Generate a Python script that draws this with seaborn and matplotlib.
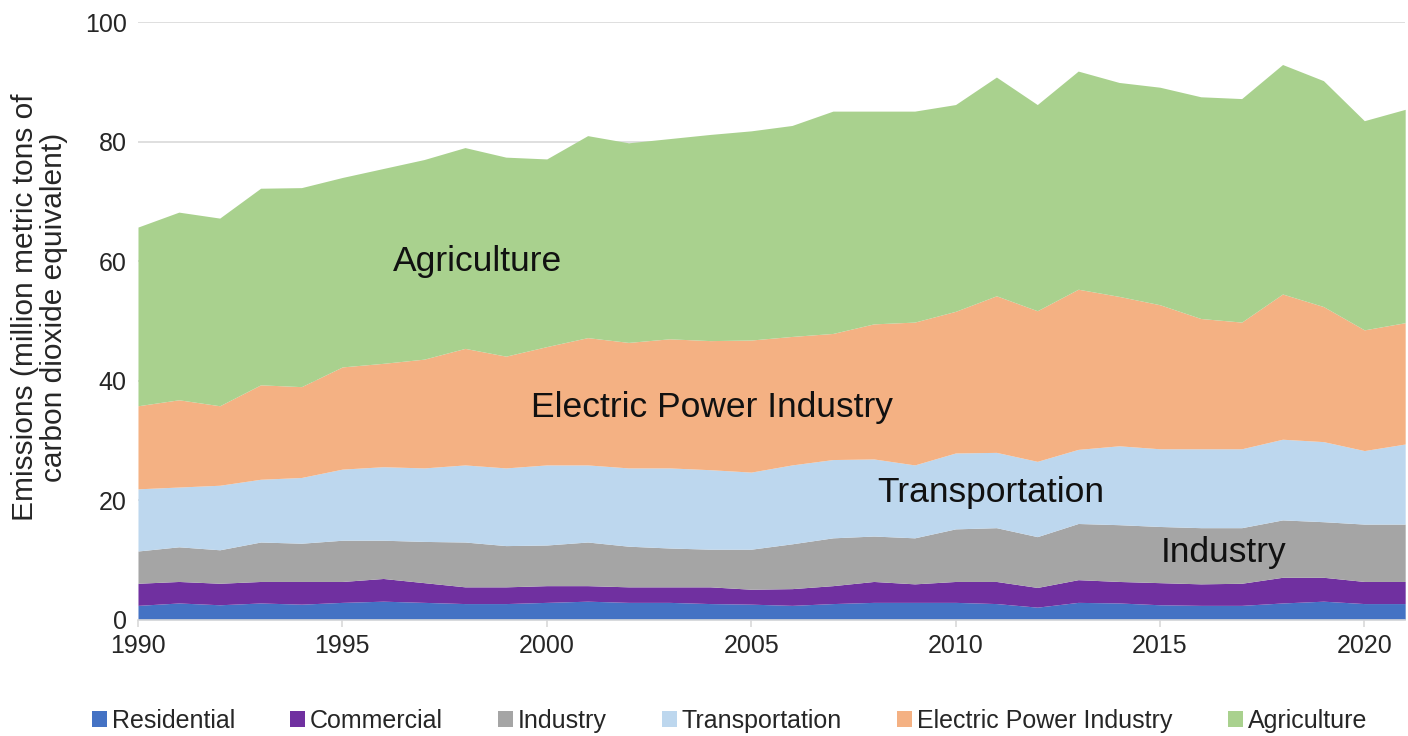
import numpy as np
import pandas as pd
import matplotlib
matplotlib.use('Agg')
import matplotlib.pyplot as plt
import seaborn as sns

years = list(range(1990, 2022))

residential = [2.4, 2.8, 2.5, 2.8, 2.6, 2.9, 3.1, 2.9, 2.7, 2.7, 2.9, 3.1, 2.9, 2.9, 2.7, 2.6,
               2.4, 2.7, 2.9, 2.9, 2.9, 2.7, 2.1, 2.9, 2.8, 2.5, 2.4, 2.4, 2.8, 3.1, 2.7, 2.7]
commercial = [3.7, 3.6, 3.6, 3.6, 3.8, 3.5, 3.8, 3.3, 2.8, 2.8, 2.8, 2.6, 2.6, 2.6, 2.8, 2.5,
              2.8, 3.0, 3.5, 3.1, 3.5, 3.7, 3.3, 3.8, 3.6, 3.7, 3.6, 3.7, 4.3, 4.0, 3.7, 3.7]
industry = [5.4, 5.8, 5.6, 6.6, 6.4, 6.9, 6.4, 6.9, 7.5, 6.9, 6.8, 7.3, 6.8, 6.5, 6.3, 6.7,
            7.5, 8.0, 7.6, 7.7, 8.8, 9.0, 8.5, 9.4, 9.5, 9.4, 9.4, 9.3, 9.6, 9.3, 9.6, 9.6]
transportation = [10.4, 10.0, 10.8, 10.5, 11.0, 11.9, 12.3, 12.3, 12.9, 13.0, 13.4, 12.9, 13.1, 13.4, 13.3, 12.9,
                  13.2, 13.1, 12.9, 12.2, 12.7, 12.6, 12.6, 12.4, 13.2, 13.0, 13.2, 13.2, 13.5, 13.4, 12.3, 13.4]
electric_power = [13.9, 14.6, 13.3, 15.8, 15.2, 17.1, 17.3, 18.2, 19.5, 18.7, 19.8, 21.3, 21.0, 21.6, 21.6, 22.1,
                  21.5, 21.1, 22.6, 23.9, 23.7, 26.2, 25.2, 26.8, 25.0, 24.1, 21.8, 21.2, 24.3, 22.6, 20.2, 20.3]
agriculture = [29.9, 31.4, 31.4, 32.9, 33.3, 31.7, 32.6, 33.4, 33.6, 33.3, 31.4, 33.8, 33.4, 33.5, 34.5, 35.0,
               35.3, 37.2, 35.6, 35.3, 34.6, 36.6, 34.5, 36.5, 35.8, 36.4, 37.1, 37.4, 38.4, 37.8, 35.0, 35.7]

sectors = ['Residential', 'Commercial', 'Industry', 'Transportation', 'Electric Power Industry', 'Agriculture']
colors = ['#4472C4', '#7030A0', '#A5A5A5', '#BDD7EE', '#F4B183', '#A9D18E']

df = pd.DataFrame({
    'Residential': residential,
    'Commercial': commercial,
    'Industry': industry,
    'Transportation': transportation,
    'Electric Power Industry': electric_power,
    'Agriculture': agriculture,
}, index=years)

sns.set_theme(style='white')
plt.rcParams['font.family'] = ['Liberation Sans', 'DejaVu Sans']

fig = plt.figure(figsize=(14.08, 7.36), dpi=100)
ax = fig.add_axes([0.098, 0.158, 0.900, 0.812])

palette = sns.color_palette(colors)
ax.stackplot(df.index, [df[s] for s in sectors], labels=sectors, colors=palette, linewidth=0)

ax.set_xlim(1990, 2021)
ax.set_ylim(0, 100)
ax.set_yticks(range(0, 101, 20))
ax.set_xticks(range(1990, 2021, 5))
ax.grid(axis='y', color='#d9d9d9', linewidth=1.2)
ax.set_axisbelow(True)
for side in ['left', 'right', 'top']:
    ax.spines[side].set_visible(False)
ax.spines['bottom'].set_color('#d9d9d9')
ax.spines['bottom'].set_linewidth(1.2)
ax.tick_params(axis='x', direction='out', length=5, color='#d9d9d9', width=1.2, labelsize=18, pad=5, bottom=True)
ax.tick_params(axis='y', length=0, labelsize=18, pad=8)
for lbl in ax.get_xticklabels() + ax.get_yticklabels():
    lbl.set_color('#262626')

# y axis title
fig.text(0.028, 0.583, 'Emissions (million metric tons of\ncarbon dioxide equivalent)', rotation=90,
         fontsize=21.5, color='#262626', ha='center', va='center', linespacing=1.05)

# inline labels
ax.text(1998.3, 59.9, 'Agriculture', fontsize=25.5, ha='center', va='center', color='#111111')
ax.text(2004.05, 35.5, 'Electric Power Industry', fontsize=25.5, ha='center', va='center', color='#111111')
ax.text(2010.85, 21.3, 'Transportation', fontsize=25.5, ha='center', va='center', color='#111111')
ax.text(2016.55, 11.3, 'Industry', fontsize=25.5, ha='center', va='center', color='#111111')

fig.legend(loc='center', bbox_to_anchor=(0.518, 1 - 721 / 736), ncol=6, frameon=False, fontsize=18,
           handlelength=0.6, handleheight=0.6, handletextpad=0.2, columnspacing=2.2)

fig.savefig('out.png', dpi=100)
